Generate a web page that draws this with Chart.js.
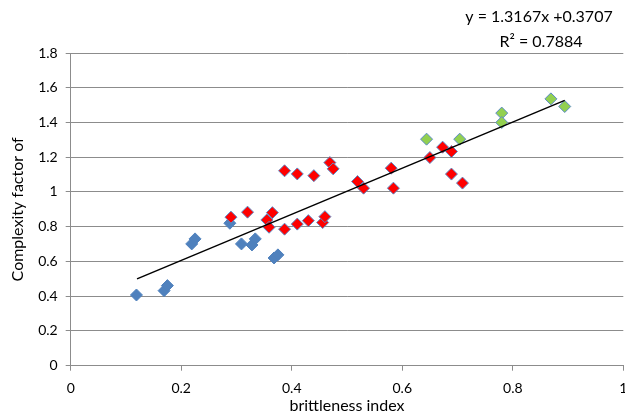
<!DOCTYPE html>
<html>
<head>
<meta charset="utf-8">
<script src="https://cdn.jsdelivr.net/npm/chart.js@4"></script>
<style>
  html, body { margin: 0; padding: 0; background: #fff; }
  #wrap { width: 625px; height: 416px; }
</style>
</head>
<body>
<div id="wrap"><canvas id="chart" width="625" height="416"></canvas></div>
<script>
// values
const blueX = [0.119, 0.169, 0.175, 0.219, 0.225, 0.288, 0.309, 0.328, 0.334, 0.368, 0.375];
const blueY = [0.407, 0.432, 0.461, 0.701, 0.730, 0.820, 0.701, 0.695, 0.730, 0.620, 0.638];

const redX = [0.290, 0.320, 0.355, 0.365, 0.359, 0.387, 0.410, 0.430, 0.456, 0.460, 0.387, 0.410,
  0.440, 0.469, 0.475, 0.519, 0.530, 0.580, 0.584, 0.650, 0.673, 0.689, 0.689, 0.709];
const redY = [0.855, 0.884, 0.839, 0.881, 0.797, 0.786, 0.815, 0.835, 0.824, 0.858, 1.122, 1.104,
  1.094, 1.169, 1.133, 1.060, 1.022, 1.137, 1.022, 1.198, 1.258, 1.233, 1.103, 1.051];

const greenX = [0.644, 0.704, 0.780, 0.780, 0.869, 0.894];
const greenY = [1.304, 1.304, 1.454, 1.400, 1.536, 1.492];

// trend line ends as drawn in the picture
const trendX = [0.12, 0.894];
const trendY = [0.50, 1.527];

const eqLines = ['y = 1.3167x +0.3707', 'R\u00b2 = 0.7884'];

const pts = (xs, ys) => xs.map((x, i) => ({ x: x, y: ys[i] }));

const FONT = 'Lato, "Open Sans", sans-serif';
const GRID = '#8c8c8c';

const marker = (fill, border) => ({
  type: 'scatter',
  pointStyle: 'rectRot',
  pointRadius: 6,
  pointHoverRadius: 6,
  backgroundColor: fill,
  borderColor: border,
  borderWidth: 1,
});

// "1.0" -> "1", "0.6000001" -> "0.6"
const fmt = (v) => String(+v.toFixed(1));

// equation label at the top right
const eqLabel = {
  id: 'eqLabel',
  afterDraw(chart) {
    const ctx = chart.ctx;
    ctx.save();
    ctx.fillStyle = '#000';
    ctx.font = '16px ' + FONT;
    ctx.textAlign = 'center';
    ctx.textBaseline = 'middle';
    ctx.fillText(eqLines[0], 539, 17);
    ctx.fillText(eqLines[1], 541, 42);
    ctx.restore();
  }
};

new Chart(document.getElementById('chart'), {
  data: {
    datasets: [
      { ...marker('#4f81bd', '#4f81bd'), label: 'a', data: pts(blueX, blueY), order: 3 },
      { ...marker('#ff0000', '#5b8ac6'), label: 'b', data: pts(redX, redY), order: 2 },
      { ...marker('#92d050', '#5b8ac6'), label: 'c', data: pts(greenX, greenY), order: 1 },
      {
        type: 'line', label: 'trend', data: pts(trendX, trendY), order: 0,
        borderColor: '#000', borderWidth: 1.5, pointRadius: 0, fill: false,
      },
    ],
  },
  options: {
    responsive: false,
    animation: false,
    layout: { autoPadding: false, padding: { top: 53, right: 1.7, bottom: 0, left: 0 } },
    plugins: { legend: { display: false }, tooltip: { enabled: false } },
    scales: {
      x: {
        type: 'linear',
        min: 0, max: 1,
        ticks: { stepSize: 0.2, color: '#000', font: { family: FONT, size: 14 }, padding: 9, callback: fmt },
        grid: { drawOnChartArea: false, color: GRID, tickLength: 5 },
        border: { color: GRID },
        title: { display: true, text: 'brittleness index', color: '#000', font: { family: FONT, size: 16 }, padding: { top: 0, bottom: 1 } },
        afterFit(scale) {
          scale.height = 50.3;
          scale.paddingRight = 0;
          scale.paddingLeft = 0;
          if (scale._margins) { scale._margins.right = 0; scale._margins.left = 0; }
        },
      },
      y: {
        type: 'linear',
        min: 0, max: 1.8,
        ticks: { stepSize: 0.2, color: '#000', font: { family: FONT, size: 14 }, padding: 8, callback: fmt },
        grid: { color: GRID, tickLength: 5 },
        border: { color: GRID },
        title: { display: true, text: 'Complexity factor of', color: '#000', font: { family: FONT, size: 16 }, padding: { top: 8, bottom: 0 } },
        afterFit(scale) { scale.width = 70.7; scale.paddingTop = 0; scale.paddingBottom = 0; },
      },
    },
  },
  plugins: [eqLabel],
});
</script>
</body>
</html>
